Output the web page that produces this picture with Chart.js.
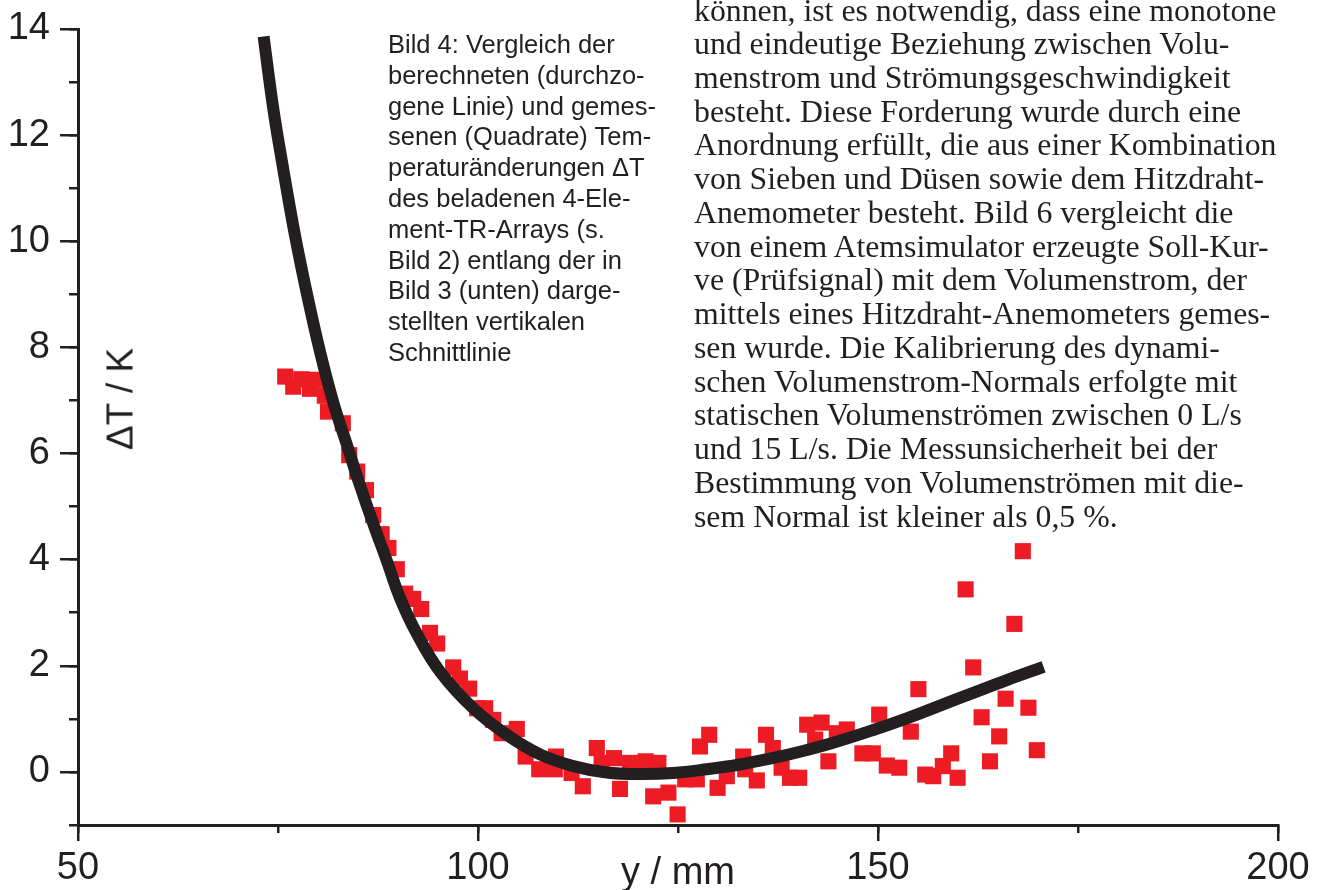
<!DOCTYPE html>
<html lang="de">
<head>
<meta charset="utf-8">
<title>Temperaturänderungen ΔT entlang der Schnittlinie</title>
<script src="https://cdn.jsdelivr.net/npm/chart.js@4.4.1/dist/chart.umd.min.js"></script>
<style>
  html, body { margin: 0; padding: 0; background: #fff; }
  #wrap { position: relative; width: 1325px; height: 890px; overflow: hidden; }
  #plot { position: absolute; left: 0; top: 0; }
  .caption {
    position: absolute; left: 388px; top: 29px;
    font: 25.5px/30.8px "Liberation Sans", Arial, sans-serif;
    color: #231f20; white-space: pre;
  }
  .body-text {
    position: absolute; left: 694px; top: -6.5px;
    font: 31px/33.73px "Liberation Serif", serif;
    color: #231f20; white-space: pre;
    transform: scaleX(1.025); transform-origin: 0 0;
  }
  .ylabel {
    position: absolute; left: 120px; top: 399px;
    font: 37px/37px "Liberation Sans", Arial, sans-serif;
    color: #231f20; white-space: nowrap;
    transform: translate(-50%, -50%) rotate(-90deg);
  }
</style>
</head>
<body>
<div id="wrap">
  <canvas id="plot" width="1325" height="890"></canvas>
  <div class="ylabel">ΔT / K</div>
  <div class="caption">Bild 4: Vergleich der
berechneten (durchzo-
gene Linie) und gemes-
senen (Quadrate) Tem-
peraturänderungen ΔT
des beladenen 4-Ele-
ment-TR-Arrays (s.
Bild 2) entlang der in
Bild 3 (unten) darge-
stellten vertikalen
Schnittlinie</div>
  <div class="body-text">können, ist es notwendig, dass eine monotone
und eindeutige Beziehung zwischen Volu-
menstrom und Strömungsgeschwindigkeit
besteht. Diese Forderung wurde durch eine
Anordnung erfüllt, die aus einer Kombination
von Sieben und Düsen sowie dem Hitzdraht-
Anemometer besteht. Bild 6 vergleicht die
von einem Atemsimulator erzeugte Soll-Kur-
ve (Prüfsignal) mit dem Volumenstrom, der
mittels eines Hitzdraht-Anemometers gemes-
sen wurde. Die Kalibrierung des dynami-
schen Volumenstrom-Normals erfolgte mit
statischen Volumenströmen zwischen 0 L/s
und 15 L/s. Die Messunsicherheit bei der
Bestimmung von Volumenströmen mit die-
sem Normal ist kleiner als 0,5 %.</div>
</div>
<script>
// berechnete Kurve (durchgezogene Linie)
const curveX = [73.2, 74.4, 75.7, 77.1, 78.6, 80.25, 81.9, 83.6, 85.25, 86.9, 88.6, 90.25,
  92.3, 95.25, 99.4, 103.6, 107.75, 111.9, 116.1, 120.25, 124.4, 128.6, 132.75, 136.5,
  140.25, 144.4, 149.4, 153.6, 157.75, 161.9, 166.1, 170.7];
const curveY = [13.86, 12.51, 11.32, 10.13, 9.02, 7.92, 6.97, 6.17, 5.40, 4.68, 3.98, 3.28,
  2.62, 1.89, 1.20, 0.70, 0.33, 0.11, -0.01, -0.04, -0.02, 0.05, 0.14, 0.25,
  0.38, 0.55, 0.79, 1.01, 1.25, 1.49, 1.73, 1.98];

// gemessene Werte (Quadrate)
const measX = [75.9, 76.9, 77.9, 79.0, 79.65, 80.85, 81.25, 83.1, 83.9, 84.9, 86.0, 86.9,
  87.95, 88.8, 89.85, 90.9, 91.9, 92.9, 94.0, 94.9, 96.9, 97.75, 98.9, 99.9, 100.9, 101.9,
  102.95, 104.85, 105.95, 107.65, 109.75, 109.6, 111.7, 113.1, 114.85, 115.45, 117.0, 117.75,
  119.0, 120.95, 122.55, 121.9, 123.8, 124.95, 125.9, 127.35, 127.75, 128.9, 129.95, 131.1,
  133.15, 133.4, 134.85, 136.0, 136.85, 137.95, 139.0, 140.15, 141.15, 142.15, 142.95, 143.8,
  144.85, 146.1, 148.05, 149.35, 150.15, 151.1, 152.65, 154.1, 155.05, 155.9, 156.9, 158.1,
  159.15, 159.95, 160.95, 161.9, 162.95, 164.0, 165.15, 165.95, 167.05, 168.1, 168.8, 169.85];
const measY = [7.45, 7.26, 7.40, 7.22, 7.39, 7.09, 6.79, 6.57, 5.97, 5.66, 5.31, 4.84,
  4.48, 4.22, 3.82, 3.36, 3.26, 3.07, 2.62, 2.42, 1.97, 1.76, 1.57, 1.20, 1.20, 0.98,
  0.73, 0.81, 0.29, 0.05, 0.29, 0.05, -0.02, -0.27, 0.45, 0.17, 0.26, -0.32,
  0.17, 0.20, 0.17, -0.46, -0.39, -0.80, -0.14, -0.14, 0.48, 0.70, -0.30, -0.08,
  0.29, 0.05, -0.16, 0.70, 0.45, 0.08, -0.11, -0.11, 0.89, 0.61, 0.93, 0.20,
  0.73, 0.80, 0.35, 0.35, 1.08, 0.12, 0.08, 0.76, 1.56, -0.05, -0.08, 0.11,
  0.35, -0.11, 3.44, 1.97, 1.03, 0.20, 0.67, 1.38, 2.79, 4.16, 1.21, 0.41];

// Achsenteilung
const xMajor = [50, 100, 150, 200];
const xMinor = [50, 75, 100, 125, 150, 175, 200];
const yMajor = [0, 2, 4, 6, 8, 10, 12, 14];
const yMinor = [-1, 0, 1, 2, 3, 4, 5, 6, 7, 8, 9, 10, 11, 12, 13, 14];

const ink = '#231f20';
const red = '#ed1c24';
const tickFont = { family: '"Liberation Sans", Arial, sans-serif', size: 38, lineHeight: 1 };

const toPoints = (xs, ys) => xs.map((x, i) => ({ x: x, y: ys[i] }));
const setTicks = list => scale => { scale.ticks = list.map(v => ({ value: v })); };

new Chart(document.getElementById('plot'), {
  type: 'scatter',
  data: {
    datasets: [
      {
        label: 'berechnet',
        data: toPoints(curveX, curveY),
        showLine: true,
        borderColor: ink,
        borderWidth: 12,
        borderCapStyle: 'butt',
        tension: 0.4,
        pointRadius: 0
      },
      {
        label: 'gemessen',
        data: toPoints(measX, measY),
        pointStyle: 'rect',
        pointRadius: 11.4,
        backgroundColor: red,
        borderWidth: 0
      }
    ]
  },
  options: {
    responsive: false,
    animation: false,
    events: [],
    layout: { padding: { left: 0, top: 25, right: 47, bottom: 0 } },
    plugins: { legend: { display: false }, tooltip: { enabled: false } },
    scales: {
      x: {
        type: 'linear', position: 'bottom', min: 50, max: 200,
        afterBuildTicks: setTicks(xMajor),
        afterFit: s => { s.height = 65; },
        border: { display: true, color: ink, width: 3 },
        grid: { drawOnChartArea: false, tickLength: 16, lineWidth: 2.5, color: ink },
        ticks: { color: ink, font: tickFont, padding: 9, maxRotation: 0 },
        title: { display: true, text: 'y / mm', color: ink, padding: { top: 0, bottom: -3 },
                 font: { family: tickFont.family, size: 38, lineHeight: 1 } }
      },
      y: {
        type: 'linear', position: 'left', min: -1, max: 14,
        afterBuildTicks: setTicks(yMajor),
        afterFit: s => { s.width = 78; },
        border: { display: true, color: ink, width: 3 },
        grid: { drawOnChartArea: false, tickLength: 18, lineWidth: 2.5, color: ink },
        ticks: { color: ink, font: tickFont, padding: 10 }
      },
      xMinor: {
        type: 'linear', axis: 'x', position: { y: -1 }, min: 50, max: 200,
        afterBuildTicks: setTicks(xMinor),
        border: { display: false },
        grid: { drawOnChartArea: false, tickLength: 8, lineWidth: 2.5, color: ink },
        ticks: { display: false }
      },
      yMinor: {
        type: 'linear', axis: 'y', position: { x: 50 }, min: -1, max: 14,
        afterBuildTicks: setTicks(yMinor),
        border: { display: false },
        grid: { drawOnChartArea: false, tickLength: 9, lineWidth: 2.5, color: ink },
        ticks: { display: false }
      }
    }
  }
});
</script>
</body>
</html>
